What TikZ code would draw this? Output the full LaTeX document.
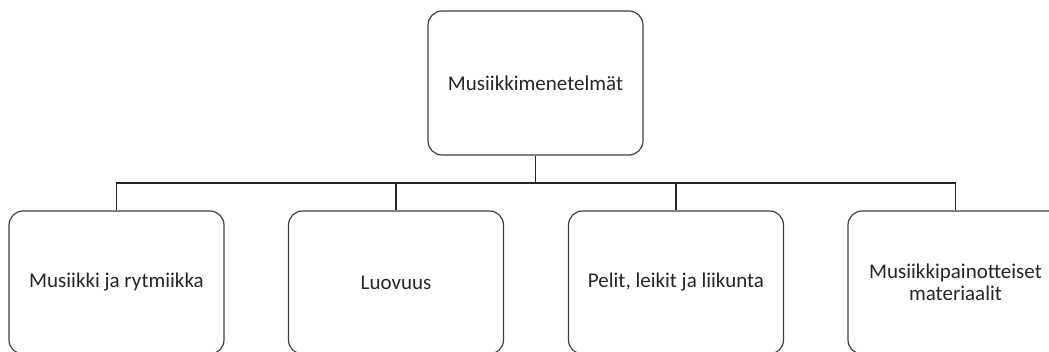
\documentclass[tikz,border=0pt]{standalone}
\usepackage{fontspec}
\setmainfont{Carlito}
\begin{document}
\begin{tikzpicture}[x=1pt,y=-1pt,
  box/.style={draw=black!75, line width=1.2pt, rounded corners=14pt, fill=white,
    minimum width=215pt, minimum height=143pt, align=center, inner sep=2pt,
    text=black!85, font=\fontsize{21}{22.5}\selectfont},
  conn/.style={draw=black!85, line width=1.2pt}]
\useasboundingbox (0,0) rectangle (1049,352);
\clip (0,0) rectangle (1049,352);
\node[box, minimum height=144pt] (top) at (535.5,83) {Musiikkimenetelmät};
\node[box] (b1) at (116.5,282.5) {Musiikki ja rytmiikka};
\node[box] (b2) at (396,282.5) {Luovuus};
\node[box] (b3) at (676,282.5) {Pelit, leikit ja liikunta};
\node[box] (b4) at (955.5,282.5) {Musiikkipainotteiset\\materiaalit};
\coordinate (bus) at (535.5,183);
\draw[conn] (top.south) -- (bus);
\draw[conn] (bus) -| (b1.north);
\draw[conn] (bus) -| (b2.north);
\draw[conn] (bus) -| (b3.north);
\draw[conn] (bus) -| (b4.north);
\end{tikzpicture}
\end{document}
